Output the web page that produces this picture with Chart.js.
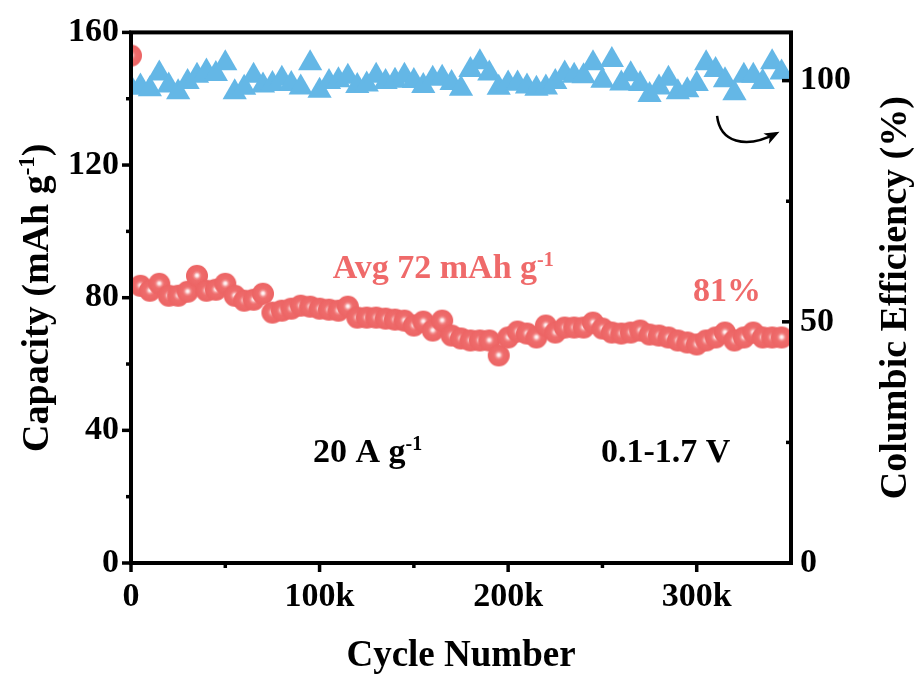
<!DOCTYPE html>
<html>
<head>
<meta charset="utf-8">
<script src="https://cdn.jsdelivr.net/npm/chart.js@4.4.1/dist/chart.umd.min.js"></script>
<style>
  html, body { margin: 0; padding: 0; background: #fff; }
  #wrap { width: 915px; height: 680px; position: relative; }
</style>
</head>
<body>
<div id="wrap"><canvas id="cycleChart"></canvas></div>
<script>
// cycle number (thousands)
const CYCLES_K = [0, 5, 10, 15, 20, 25, 30, 35, 40, 45, 50, 55, 60, 65, 70, 75, 80, 85, 90, 95,
  100, 105, 110, 115, 120, 125, 130, 135, 140, 145, 150, 155, 160, 165, 170, 175, 180, 185, 190, 195,
  200, 205, 210, 215, 220, 225, 230, 235, 240, 245, 250, 255, 260, 265, 270, 275, 280, 285, 290, 295,
  300, 305, 310, 315, 320, 325, 330, 335, 340, 345];

// discharge capacity, mAh g-1
const CAPACITY = [153, 83.6, 82.1, 84.2, 80.6, 80.6, 81.8, 86.6, 82.1, 82.4, 84.2, 80.6, 79.1, 79.4, 81.2,
  75.5, 76.1, 76.7, 77.6, 77.3, 76.7, 76.4, 76.1, 77.3, 74.0, 74.0, 74.0, 73.7, 73.4, 73.1,
  71.6, 72.8, 70.1, 73.1, 68.6, 67.7, 67.1, 67.1, 67.1, 62.6, 68.0, 69.8, 69.2, 68.0, 71.6,
  69.5, 71.0, 71.0, 71.0, 72.5, 70.7, 69.5, 69.2, 69.5, 70.1, 68.9, 68.6, 68.0, 67.1, 66.5,
  65.9, 67.1, 68.0, 69.5, 67.1, 68.0, 69.5, 68.0, 68.0, 68.0];

// coulombic efficiency, %
const EFFICIENCY = [98.5, 98.8, 98.2, 101.5, 99.0, 97.6, 99.7, 101.0, 101.9, 101.4, 103.6, 97.6, 98.5, 101.0, 99.0,
  99.3, 100.4, 99.3, 98.6, 103.6, 97.9, 99.7, 100.1, 100.8, 98.9, 99.2, 101.0, 99.7, 100.0, 101.0,
  99.9, 98.9, 100.4, 100.6, 99.5, 98.3, 102.2, 103.8, 101.5, 98.5, 99.4, 99.4, 98.8, 98.3, 98.6,
  99.7, 101.5, 101.0, 100.9, 103.6, 100.0, 104.3, 99.4, 101.3, 99.3, 97.0, 98.6, 100.4, 97.6, 98.0,
  99.3, 103.6, 102.2, 100.1, 97.4, 101.0, 101.0, 99.7, 103.8, 101.7];

const X_MAJOR = [0, 100, 200, 300];
const X_MINOR = [50, 150, 250];
const CAP_MAJOR = [0, 40, 80, 120, 160];
const CAP_MINOR = [20, 60, 100, 140];
const CE_MAJOR = [0, 50, 100];
const CE_MINOR = [25, 75];

const SERIF = '"Liberation Serif", "Times New Roman", serif';
const RED = '#ef6a6a';
const BLUE = '#64b7e6';

// shiny ball marker for the capacity points
function makeBall(r) {
  const c = document.createElement('canvas');
  c.width = c.height = r * 2 + 2;
  const g = c.getContext('2d');
  const cx = r + 1, cy = r + 1;
  const grad = g.createRadialGradient(cx, cy - 0.5, 0, cx, cy, r);
  grad.addColorStop(0, '#ffffff');
  grad.addColorStop(0.12, '#fde6e6');
  grad.addColorStop(0.3, '#f28a8a');
  grad.addColorStop(0.45, '#ef6c6c');
  grad.addColorStop(1, '#ec6464');
  g.fillStyle = grad;
  g.beginPath();
  g.arc(cx, cy, r, 0, Math.PI * 2);
  g.fill();
  return c;
}

// text with superscript parts: [{t, sup}]
function drawRich(ctx, parts, x, y, size, color, rot, align) {
  ctx.save();
  ctx.translate(x, y);
  ctx.rotate(rot || 0);
  ctx.fillStyle = color;
  ctx.textBaseline = 'alphabetic';
  ctx.textAlign = 'left';
  const supSize = Math.round(size * 0.6);
  let total = 0;
  parts.forEach(p => {
    ctx.font = 'bold ' + (p.sup ? supSize : size) + 'px ' + SERIF;
    p.w = ctx.measureText(p.t).width;
    total += p.w;
  });
  let cx = align === 'center' ? -total / 2 : 0;
  parts.forEach(p => {
    ctx.font = 'bold ' + (p.sup ? supSize : size) + 'px ' + SERIF;
    ctx.fillText(p.t, cx, p.sup ? -size * 0.36 : 0);
    cx += p.w;
  });
  ctx.restore();
}

const axesPlugin = {
  id: 'axesPlugin',
  afterDatasetsDraw(chart) {
    const { ctx, chartArea: a, scales } = chart;
    const x = scales.x, y = scales.y, ce = scales.ce;
    ctx.save();
    ctx.strokeStyle = '#000';
    ctx.lineWidth = 4;
    ctx.strokeRect(a.left, a.top, a.right - a.left, a.bottom - a.top);

    ctx.lineWidth = 3.5;
    const tick = (x1, y1, x2, y2) => { ctx.beginPath(); ctx.moveTo(x1, y1); ctx.lineTo(x2, y2); ctx.stroke(); };
    X_MAJOR.forEach(v => { const p = x.getPixelForValue(v); tick(p, a.bottom, p, a.bottom + 9); });
    X_MINOR.forEach(v => { const p = x.getPixelForValue(v); tick(p, a.bottom, p, a.bottom + 5); });
    CAP_MAJOR.forEach(v => { const p = y.getPixelForValue(v); tick(a.left, p, a.left - 9, p); });
    CAP_MINOR.forEach(v => { const p = y.getPixelForValue(v); tick(a.left, p, a.left - 5, p); });
    CE_MAJOR.forEach(v => { const p = ce.getPixelForValue(v); tick(a.right, p, a.right - 9, p); });
    CE_MINOR.forEach(v => { const p = ce.getPixelForValue(v); tick(a.right, p, a.right - 5, p); });

    // axis titles, both read bottom to top
    const midY = (a.top + a.bottom) / 2;
    drawRich(ctx, [{ t: 'Capacity (mAh g' }, { t: '-1', sup: true }, { t: ')' }],
      48, midY, 38, '#000', -Math.PI / 2, 'center');
    drawRich(ctx, [{ t: 'Columbic Efficiency (%)' }],
      906, midY, 38, '#000', -Math.PI / 2, 'center');

    // annotations
    drawRich(ctx, [{ t: 'Avg 72 mAh g' }, { t: '-1', sup: true }],
      x.getPixelForValue(107), y.getPixelForValue(86), 34, RED, 0, 'left');
    drawRich(ctx, [{ t: '81%' }], x.getPixelForValue(298), y.getPixelForValue(79.1), 34, RED, 0, 'left');
    drawRich(ctx, [{ t: '20 A g' }, { t: '-1', sup: true }],
      x.getPixelForValue(96.5), y.getPixelForValue(30.4), 34, '#000', 0, 'left');
    drawRich(ctx, [{ t: '0.1-1.7 V' }], x.getPixelForValue(249.2), y.getPixelForValue(30.4), 34, '#000', 0, 'left');

    // curved arrow pointing to the efficiency axis
    const P = [[310.8, 92.7], [312.3, 87.3], [325.6, 85.7], [342.0, 89.0]]
      .map(([k, e]) => [x.getPixelForValue(k), ce.getPixelForValue(e)]);
    ctx.lineWidth = 2.5;
    ctx.beginPath();
    ctx.moveTo(P[0][0], P[0][1]);
    ctx.bezierCurveTo(P[1][0], P[1][1], P[2][0], P[2][1], P[3][0], P[3][1]);
    ctx.stroke();
    const ang = Math.atan2(P[3][1] - P[2][1], P[3][0] - P[2][0]);
    ctx.translate(P[3][0], P[3][1]);
    ctx.rotate(ang);
    ctx.fillStyle = '#000';
    ctx.beginPath();
    ctx.moveTo(4, 0);
    ctx.lineTo(-11, -6);
    ctx.lineTo(-7, 0);
    ctx.lineTo(-11, 6);
    ctx.closePath();
    ctx.fill();
    ctx.restore();
  }
};

const tickFont = { family: SERIF, size: 34, weight: 'bold' };

new Chart(document.getElementById('cycleChart'), {
  type: 'scatter',
  data: {
    datasets: [
      {
        label: 'Efficiency',
        data: CYCLES_K.map((c, i) => ({ x: c, y: EFFICIENCY[i] })),
        yAxisID: 'ce',
        pointStyle: 'triangle',
        pointRadius: 14,
        pointBackgroundColor: BLUE,
        pointBorderWidth: 0,
        clip: 0
      },
      {
        label: 'Capacity',
        data: CYCLES_K.map((c, i) => ({ x: c, y: CAPACITY[i] })),
        yAxisID: 'y',
        pointStyle: makeBall(11),
        pointRadius: 11,
        clip: 0
      }
    ]
  },
  options: {
    responsive: true,
    maintainAspectRatio: false,
    animation: false,
    events: [],
    layout: { padding: { top: 30, left: 0, right: 0, bottom: 0 } },
    plugins: { legend: { display: false }, tooltip: { enabled: false } },
    scales: {
      x: {
        type: 'linear', position: 'bottom', min: 0, max: 350,
        afterBuildTicks: s => { s.ticks = X_MAJOR.map(v => ({ value: v })); },
        afterFit: s => { s.height = 117; },
        grid: { display: false, drawTicks: false },
        border: { display: false },
        ticks: {
          padding: 14, color: '#000', font: tickFont, maxRotation: 0, autoSkip: false,
          callback: v => v === 0 ? '0' : v + 'k'
        },
        title: {
          display: true, text: 'Cycle Number', color: '#000',
          font: { family: SERIF, size: 37, weight: 'bold' }, padding: { top: 0, bottom: 1 }
        }
      },
      y: {
        position: 'left', min: 0, max: 160,
        afterBuildTicks: s => { s.ticks = CAP_MAJOR.map(v => ({ value: v })); },
        afterFit: s => { s.width = 131; },
        grid: { display: false, drawTicks: false },
        border: { display: false },
        ticks: { padding: 12, color: '#000', font: tickFont }
      },
      ce: {
        position: 'right', min: 0, max: 110,
        afterBuildTicks: s => { s.ticks = CE_MAJOR.map(v => ({ value: v })); },
        afterFit: s => { s.width = 124; },
        grid: { display: false, drawTicks: false },
        border: { display: false },
        ticks: { padding: 9, color: '#000', font: tickFont }
      }
    }
  },
  plugins: [axesPlugin]
});
</script>
</body>
</html>
